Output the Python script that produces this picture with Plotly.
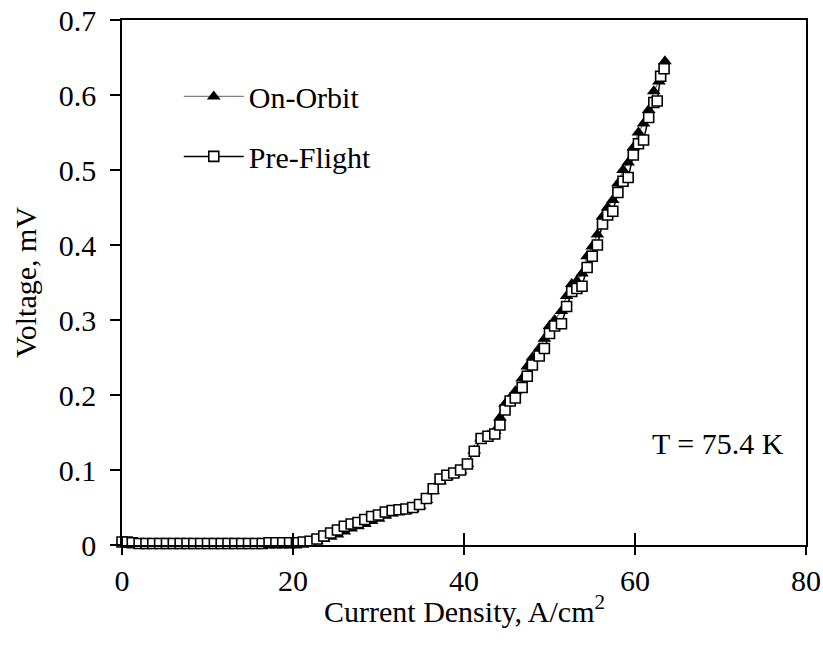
import plotly.graph_objects as go

# ---------------- data ----------------
pre_x = [0.0, 0.6, 1.2, 2.0, 2.8, 3.6, 4.4, 5.2, 6.0, 6.8, 7.6, 8.4, 9.2, 10.0, 10.8,
         11.6, 12.4, 13.2, 14.0, 14.8, 15.6, 16.4, 17.2, 18.0, 18.8, 19.6, 20.4, 21.2,
         22.0, 22.8, 23.6, 24.4, 25.2, 26.0, 26.8, 27.6, 28.4, 29.2, 30.0, 30.8, 31.6,
         32.4, 33.2, 34.0, 34.8, 35.6, 36.4, 37.2, 38.0, 38.8, 39.6, 40.4, 41.2, 42.0,
         42.8, 43.6, 44.2, 44.8, 45.4, 46.0, 46.8, 47.4, 48.0, 48.8, 49.4, 50.0, 50.6,
         51.4, 52.0, 52.6, 53.2, 53.8, 54.4, 55.0, 55.6, 56.2, 56.8, 57.4, 58.0, 58.6,
         59.2, 59.8, 60.4, 61.0, 61.6, 62.2, 62.6, 63.0, 63.4]
pre_y = [0.004, 0.004, 0.003, 0.002, 0.002, 0.002, 0.002, 0.002, 0.002, 0.002, 0.002,
         0.002, 0.002, 0.002, 0.002, 0.002, 0.002, 0.002, 0.002, 0.002, 0.002, 0.002,
         0.003, 0.003, 0.003, 0.003, 0.003, 0.004, 0.005, 0.008, 0.012, 0.016, 0.020,
         0.025, 0.028, 0.030, 0.034, 0.038, 0.040, 0.044, 0.046, 0.047, 0.048, 0.050,
         0.054, 0.062, 0.075, 0.088, 0.093, 0.096, 0.100, 0.108, 0.125, 0.142, 0.145,
         0.148, 0.160, 0.180, 0.192, 0.196, 0.210, 0.225, 0.240, 0.252, 0.262, 0.282,
         0.292, 0.295, 0.318, 0.338, 0.342, 0.345, 0.370, 0.385, 0.400, 0.428, 0.440,
         0.445, 0.470, 0.485, 0.490, 0.520, 0.535, 0.540, 0.570, 0.590, 0.592, 0.625,
         0.635]

orb_x = [0.0, 0.8, 1.6, 2.4, 3.2, 4.0, 4.8, 5.6, 6.4, 7.2, 8.0, 8.8, 9.6, 10.4, 11.2,
         12.0, 12.8, 13.6, 14.4, 15.2, 16.0, 16.8, 17.6, 18.4, 19.2, 20.0, 20.8, 21.4,
         22.0, 22.8, 23.6, 24.4, 25.2, 26.0, 26.8, 27.6, 28.4, 29.2, 30.0, 30.8, 31.6,
         32.4, 33.2, 34.0, 34.8, 35.6, 36.4, 37.2, 38.0, 38.8, 39.6, 40.4, 41.2, 42.0,
         42.8, 43.6, 44.2, 44.8, 45.4, 46.0, 46.8, 47.4, 48.0, 48.8, 49.4, 50.0, 50.6,
         51.4, 52.0, 52.6, 53.2, 53.8, 54.4, 55.0, 55.6, 56.2, 56.8, 57.4, 58.0, 58.6,
         59.2, 59.8, 60.4, 61.0, 61.6, 62.2, 62.8, 63.5]
orb_y = [0.003, 0.002, 0.001, 0.001, 0.001, 0.001, 0.001, 0.001, 0.001, 0.001, 0.001,
         0.001, 0.001, 0.001, 0.001, 0.001, 0.001, 0.001, 0.001, 0.001, 0.001, 0.001,
         0.001, 0.001, 0.001, 0.002, 0.002, 0.002, 0.003, 0.005, 0.008, 0.011, 0.014,
         0.018, 0.022, 0.025, 0.028, 0.032, 0.035, 0.039, 0.042, 0.044, 0.046, 0.048,
         0.052, 0.060, 0.072, 0.085, 0.091, 0.094, 0.099, 0.108, 0.126, 0.142, 0.146,
         0.152, 0.170, 0.188, 0.196, 0.205, 0.222, 0.238, 0.250, 0.262, 0.275, 0.292,
         0.300, 0.312, 0.332, 0.348, 0.352, 0.362, 0.385, 0.398, 0.414, 0.438, 0.450,
         0.460, 0.482, 0.500, 0.510, 0.530, 0.550, 0.562, 0.580, 0.605, 0.618, 0.645]

x_ticks = [0, 20, 40, 60, 80]
y_ticks = [0, 0.1, 0.2, 0.3, 0.4, 0.5, 0.6, 0.7]
y_tick_text = ["0", "0.1", "0.2", "0.3", "0.4", "0.5", "0.6", "0.7"]

FONT = "Liberation Serif, Times New Roman, serif"
FS = 30

fig = go.Figure()
fig.add_trace(go.Scatter(
    x=orb_x, y=orb_y, name="On-Orbit", mode="lines+markers",
    line=dict(color="#808080", width=1.3),
    marker=dict(symbol="triangle-up", size=12, color="black"),
    cliponaxis=False, legendgroup="a"))
fig.add_trace(go.Scatter(
    x=pre_x, y=pre_y, name="Pre-Flight", mode="lines+markers",
    line=dict(color="black", width=1.5),
    marker=dict(symbol="square", size=10, color="white",
                line=dict(color="black", width=1.6)),
    cliponaxis=False, legendgroup="b"))
# helper trace so the secondary (inside-tick) x axis is drawn
fig.add_trace(go.Scatter(x=[0], y=[0], xaxis="x2", mode="markers",
                         marker=dict(opacity=0), showlegend=False, hoverinfo="skip"))

fig.update_layout(
    width=823, height=648,
    margin=dict(l=122, r=17, t=20, b=103, autoexpand=False),
    paper_bgcolor="white", plot_bgcolor="white",
    font=dict(family=FONT, size=FS, color="black"),
    showlegend=True,
    legend=dict(x=0.083, y=0.904, xanchor="left", yanchor="top",
                bgcolor="rgba(0,0,0,0)", font=dict(size=FS), itemwidth=60,
                traceorder="grouped", tracegroupgap=18),
    xaxis=dict(range=[0, 80], tickvals=x_ticks, ticks="outside", ticklen=8,
               tickwidth=1.5, tickcolor="black", showline=True, linecolor="black",
               linewidth=1.5, mirror=True, showgrid=False, zeroline=False,
               automargin=False, tickfont=dict(size=FS)),
    xaxis2=dict(range=[0, 80], tickvals=x_ticks, overlaying="x", anchor="y",
                side="bottom", ticks="inside", ticklen=12, tickwidth=1.5,
                tickcolor="black", showticklabels=False, showline=False,
                showgrid=False, zeroline=False, automargin=False),
    yaxis=dict(range=[0, 0.7], tickvals=y_ticks, ticktext=y_tick_text,
               ticks="outside", ticklen=10, tickwidth=1.5, tickcolor="black",
               showline=True, linecolor="black", linewidth=1.5, mirror=True,
               showgrid=False, zeroline=False, tickfont=dict(size=FS),
               ticklabelstandoff=8, automargin=False,
               title=dict(text="Voltage, mV", standoff=13, font=dict(size=FS))),
    annotations=[
        dict(x=69.7, y=0.136, xref="x", yref="y", text="T = 75.4 K",
             showarrow=False, font=dict(size=FS), xanchor="center", yanchor="middle"),
        dict(x=0.5, y=-0.121, xref="paper", yref="paper",
             text="Current Density, A/cm<sup>2</sup>", showarrow=False,
             font=dict(size=FS), xanchor="center", yanchor="middle"),
    ],
)

fig.write_html("out.html")
